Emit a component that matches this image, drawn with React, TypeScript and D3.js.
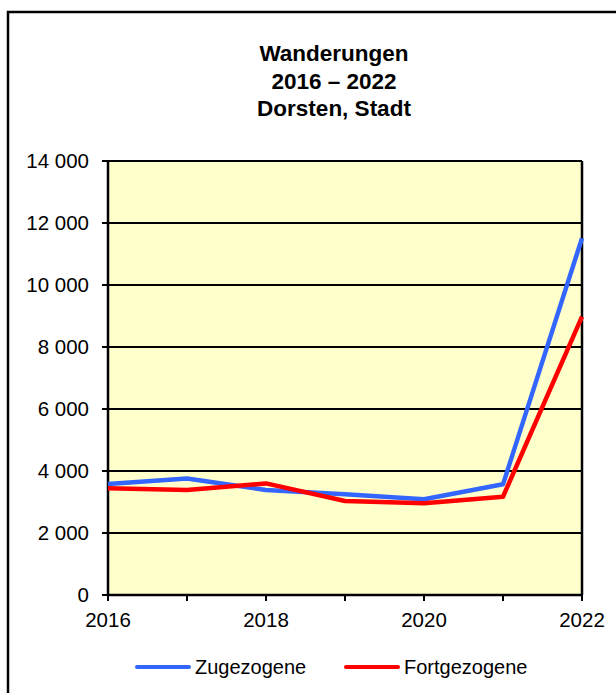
import React from "react";
import * as d3 from "d3";

const years = [2016, 2017, 2018, 2019, 2020, 2021, 2022];
const zugezogene = [3580, 3760, 3390, 3250, 3090, 3570, 11510];
const fortgezogene = [3440, 3390, 3600, 3030, 2960, 3170, 8980];
const yTicks = [0, 2000, 4000, 6000, 8000, 10000, 12000, 14000];
const xLabelYears = [2016, 2018, 2020, 2022];
const titleLines = ["Wanderungen", "2016 – 2022", "Dorsten, Stadt"];
const seriesNames = ["Zugezogene", "Fortgezogene"];
const seriesColors = ["#3366FF", "#FF0000"];

const W = 616;
const H = 693;
const left = 108;
const right = 582;
const top = 161;
const bottom = 595;
const FONT = "'Liberation Sans', Arial, sans-serif";

const fmt = (v: number) => {
  const s = d3.format(",")(v);
  return s.replace(/,/g, " ");
};

export default function App() {
  const x = d3.scaleLinear().domain([2016, 2022]).range([left, right]);
  const y = d3.scaleLinear().domain([0, 14000]).range([bottom, top]);
  const line = d3
    .line<number>()
    .x((_, i) => x(years[i]))
    .y((d) => y(d));
  const series = [zugezogene, fortgezogene];

  return (
    <svg
      width={W}
      height={H}
      style={{ position: "absolute", left: 0, top: 0, background: "#fff" }}
      fontFamily={FONT}
    >
      <rect x={8} y={12} width={700} height={800} fill="none" stroke="#000" strokeWidth={2.5} />
      {titleLines.map((t, i) => (
        <text
          key={t}
          x={334}
          y={61 + i * 27.5}
          textAnchor="middle"
          fontSize={22.5}
          fontWeight="bold"
          fill="#000"
        >
          {t}
        </text>
      ))}
      <rect x={left} y={top} width={right - left} height={bottom - top} fill="#FFFFCC" />
      {yTicks.map((v) => (
        <g key={v}>
          <line x1={left - 6} x2={right} y1={y(v)} y2={y(v)} stroke="#000" strokeWidth={2} />
          <text x={89} y={y(v)} dy="0.36em" textAnchor="end" fontSize={20.5} fill="#000">
            {fmt(v)}
          </text>
        </g>
      ))}
      {years.map((yr) => (
        <line key={yr} x1={x(yr)} x2={x(yr)} y1={bottom} y2={bottom + 6} stroke="#000" strokeWidth={2} />
      ))}
      {xLabelYears.map((yr) => (
        <text key={yr} x={x(yr)} y={627} textAnchor="middle" fontSize={20.5} fill="#000">
          {yr}
        </text>
      ))}
      <line x1={left} x2={left} y1={top} y2={bottom} stroke="#000" strokeWidth={2.5} />
      <line x1={right} x2={right} y1={top} y2={bottom} stroke="#000" strokeWidth={2.5} />
      <line x1={left} x2={right} y1={bottom} y2={bottom} stroke="#000" strokeWidth={2.5} />
      {series.map((s, i) => (
        <path
          key={i}
          d={line(s) || ""}
          fill="none"
          stroke={seriesColors[i]}
          strokeWidth={4.5}
          strokeLinejoin="round"
        />
      ))}
      {seriesNames.map((n, i) => {
        const lx = i === 0 ? 137 : 346;
        return (
          <g key={n}>
            <line
              x1={lx}
              x2={lx + 52}
              y1={667}
              y2={667}
              stroke={seriesColors[i]}
              strokeWidth={4}
              strokeLinecap="round"
            />
            <text x={lx + 58} y={674} fontSize={20} fill="#000">
              {n}
            </text>
          </g>
        );
      })}
    </svg>
  );
}
